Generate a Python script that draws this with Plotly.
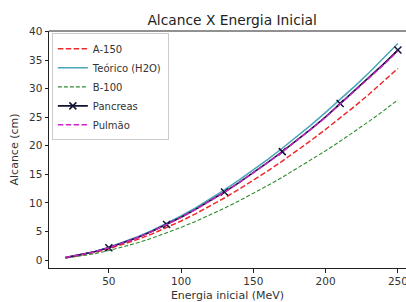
import plotly.graph_objects as go

energia = [20, 30, 40, 50, 60, 70, 80, 90, 100, 110, 120, 130, 140, 150,
           160, 170, 180, 190, 200, 210, 220, 230, 240, 250]

a150 = [0.38, 0.79, 1.30, 1.97, 2.73, 3.61, 4.58, 5.66, 6.83, 8.09, 9.43, 10.86,
        12.37, 13.95, 15.60, 17.32, 19.11, 20.95, 22.88, 24.87, 26.90, 29.03, 31.24, 33.54]
teorico = [0.43, 0.89, 1.47, 2.23, 3.09, 4.08, 5.18, 6.40, 7.72, 9.14, 10.66, 12.27,
           13.98, 15.76, 17.63, 19.57, 21.59, 23.67, 25.85, 28.10, 30.40, 32.80, 35.30, 37.90]
b100 = [0.32, 0.66, 1.09, 1.65, 2.29, 3.02, 3.83, 4.74, 5.71, 6.76, 7.89, 9.08,
        10.35, 11.66, 13.05, 14.48, 15.98, 17.52, 19.13, 20.79, 22.50, 24.27, 26.12, 28.05]
pancreas = [0.42, 0.86, 1.43, 2.16, 3.00, 3.96, 5.03, 6.21, 7.49, 8.87, 10.34, 11.90,
            13.56, 15.29, 17.10, 18.98, 20.94, 22.96, 25.07, 27.40, 29.60, 31.90, 34.30, 36.76]
pulmao = [0.42, 0.86, 1.42, 2.15, 2.99, 3.95, 5.01, 6.19, 7.47, 8.84, 10.31, 11.87,
          13.52, 15.25, 17.06, 18.94, 20.89, 22.91, 25.01, 27.30, 29.50, 31.80, 34.15, 36.60]

# markers shown every 4th point starting at 50 MeV
marker_every = [50, 90, 130, 170, 210, 250]

x_ticks = [50, 100, 150, 200, 250]
y_ticks = [0, 5, 10, 15, 20, 25, 30, 35, 40]

FONT = "DejaVu Sans"
PAN_COLOR = "#111133"

mk_x = [e for e in energia if e in marker_every]
mk_y = [p for e, p in zip(energia, pancreas) if e in marker_every]

fig = go.Figure()
fig.add_trace(go.Scatter(x=energia, y=a150, mode="lines", name="A-150",
                         line=dict(color="#ee2a2a", width=1.5, dash="5.5px,2.4px")))
fig.add_trace(go.Scatter(x=energia, y=teorico, mode="lines", name="Teórico (H2O)",
                         line=dict(color="#4aa6b8", width=1.5)))
fig.add_trace(go.Scatter(x=energia, y=b100, mode="lines", name="B-100",
                         line=dict(color="#2e8b2e", width=1.1, dash="4px,2px")))
# legend entry for Pancreas (line + x marker)
fig.add_trace(go.Scatter(x=[None], y=[None], mode="lines+markers", name="Pancreas",
                         line=dict(color=PAN_COLOR, width=1.6),
                         marker=dict(symbol="x-thin", size=7, color=PAN_COLOR,
                                     line=dict(width=1.5, color=PAN_COLOR))))
fig.add_trace(go.Scatter(x=energia, y=pancreas, mode="lines", showlegend=False,
                         line=dict(color=PAN_COLOR, width=1.6)))
fig.add_trace(go.Scatter(x=mk_x, y=mk_y, mode="markers", showlegend=False,
                         marker=dict(symbol="x-thin", size=7, color=PAN_COLOR,
                                     line=dict(width=1.5, color=PAN_COLOR))))
fig.add_trace(go.Scatter(x=energia, y=pulmao, mode="lines", name="Pulmão",
                         line=dict(color="#cc22cc", width=1.5, dash="5.5px,2.4px")))

fig.update_layout(
    width=406, height=302,
    margin=dict(l=49, r=0, t=31, b=34, autoexpand=False),
    paper_bgcolor="white", plot_bgcolor="white",
    font=dict(family=FONT, size=10, color="#333333"),
    title=dict(text="Alcance X Energia Inicial", x=0.513, xref="paper",
               xanchor="center", y=0.934, yref="container", yanchor="middle",
               font=dict(family=FONT, size=13.8, color="#222222")),
    showlegend=True,
    legend=dict(x=0.008, y=0.99, xanchor="left", yanchor="top",
                bgcolor="rgba(255,255,255,0.85)", bordercolor="#cccccc", borderwidth=1,
                font=dict(family=FONT, size=10, color="#333333"),
                tracegroupgap=0, itemwidth=30),
    xaxis=dict(range=[8.6, 255.6], tickvals=x_ticks, showgrid=False, zeroline=False,
               showline=True, linecolor="#222222", linewidth=1, automargin=False,
               ticks="outside", ticklen=3.5, tickcolor="#222222",
               tickfont=dict(size=10.5), ticklabeloverflow="allow",
               title=dict(text="Energia inicial (MeV)", standoff=6,
                          font=dict(size=11))),
    yaxis=dict(range=[-1.4, 40.1], tickvals=y_ticks, showgrid=False, zeroline=False,
               showline=True, linecolor="#222222", linewidth=1, automargin=False,
               ticks="outside", ticklen=3.5, tickcolor="#222222",
               tickfont=dict(size=10.5),
               title=dict(text="Alcance (cm)", standoff=8, font=dict(size=11))),
)
fig.add_shape(type="line", xref="paper", yref="paper", x0=0, x1=1, y0=1, y1=1,
              line=dict(color="#222222", width=1))

fig.write_html("out.html", config={"displayModeBar": False},
               post_script="document.body.style.margin='0';document.body.style.overflow='hidden';")
